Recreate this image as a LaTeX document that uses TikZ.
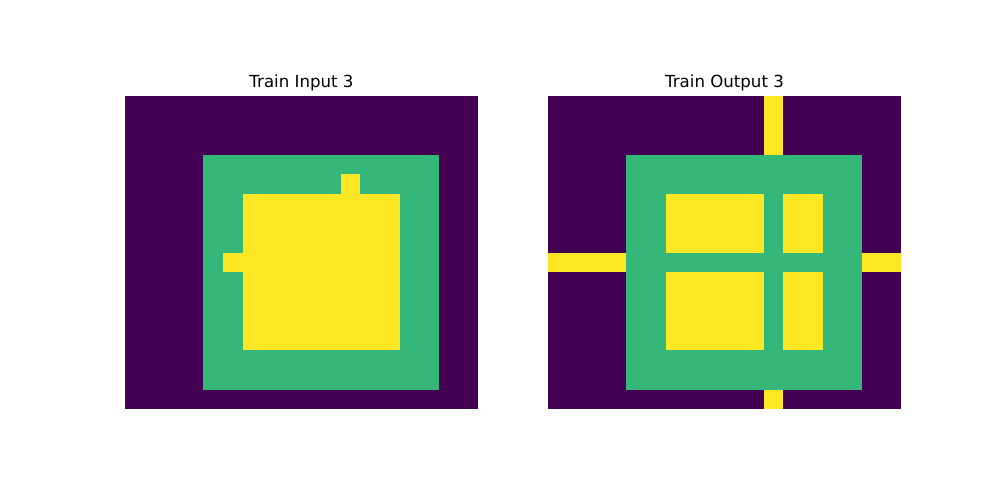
\documentclass[tikz,border=0pt]{standalone}
\usepackage{fontspec}
\setmainfont{DejaVu Sans}
\definecolor{vpurple}{HTML}{440154}
\definecolor{vgreen}{HTML}{35B779}
\definecolor{vyellow}{HTML}{FDE725}
\tikzset{
  bg/.style={fill=vpurple},
  frame/.style={fill=vgreen},
  core/.style={fill=vyellow},
  paneltitle/.style={anchor=base, font=\fontsize{12}{14}\selectfont, inner sep=0pt}
}
% one grid panel: 18 x 16 cells, top left corner at (#1,#2) in pixels
\newcommand{\gridpanel}[3]{%
  \begin{scope}[xshift=#1*0.01in, yshift=-#2*0.01in, x=0.196111in, y=-0.195625in]
    #3
  \end{scope}
}

\begin{document}
\begin{tikzpicture}[x=0.01in,y=-0.01in]
  \useasboundingbox (0,0) rectangle (1000,500);

  % Input grid
  \node[paneltitle] (intitle) at (301.5,87.7) {Train Input 3};
  \gridpanel{125}{96}{
    \fill[bg] (0,0) rectangle (18,16);
    \fill[frame] (4,3) rectangle (16,15);
    \fill[core] (6,5) rectangle (14,13);
    \fill[core] (11,4) rectangle (12,5);
    \fill[core] (5,8) rectangle (6,9);
  }

  % Output grid
  \node[paneltitle] (outtitle) at (724.5,87.7) {Train Output 3};
  \gridpanel{548}{96}{
    \fill[bg] (0,0) rectangle (18,16);
    \fill[core] (11,0) rectangle (12,3);
    \fill[core] (11,15) rectangle (12,16);
    \fill[core] (0,8) rectangle (4,9);
    \fill[core] (16,8) rectangle (18,9);
    \fill[frame] (4,3) rectangle (16,15);
    \foreach \x/\w in {6/11,12/14}{
      \foreach \y/\h in {5/8,9/13}{
        \fill[core] (\x,\y) rectangle (\w,\h);
      }
    }
  }
\end{tikzpicture}
\end{document}
